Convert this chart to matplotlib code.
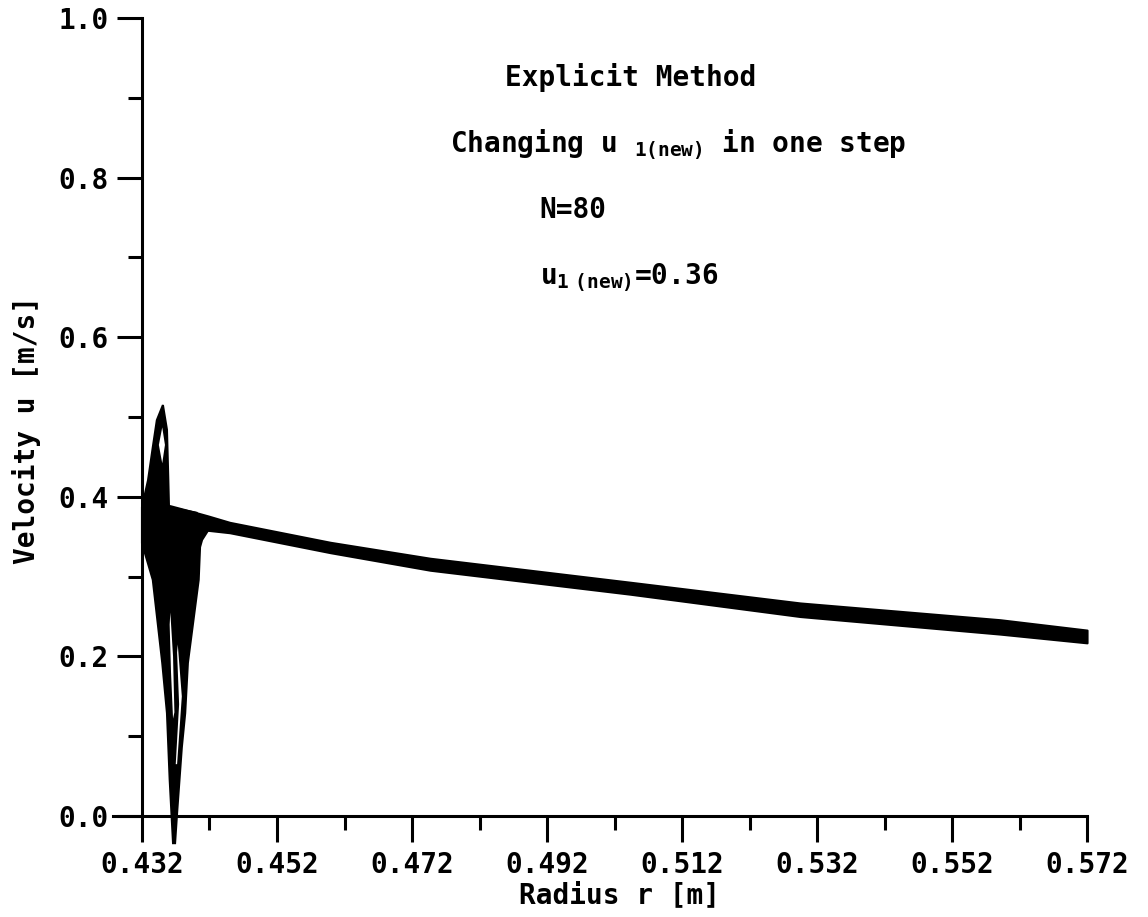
import matplotlib
matplotlib.use("Agg")
import matplotlib.pyplot as plt
from matplotlib.ticker import FixedLocator

# ---- data ----
# steady band (envelope of the overlaid time-step profiles)
band_r = [0.4361, 0.4401, 0.4418, 0.4450, 0.4599, 0.4747, 0.4895, 0.5043, 0.5295, 0.5591, 0.5720]
band_upper = [0.389, 0.380, 0.376, 0.368, 0.343, 0.323, 0.308, 0.293, 0.267, 0.246, 0.233]
band_lower = [0.360, 0.358, 0.358, 0.355, 0.330, 0.308, 0.293, 0.278, 0.250, 0.228, 0.217]

# transient region near the inner radius (outline of the overlaid profiles)
blob_r = [0.4320, 0.4329, 0.4336, 0.4342, 0.4351, 0.4357, 0.4359, 0.4360,
          0.4401, 0.4418, 0.4409, 0.4406, 0.4404, 0.4388, 0.4384, 0.4379, 0.4372, 0.4369,
          0.4366, 0.4361, 0.4357, 0.4350, 0.4336, 0.4320]
blob_u = [0.387, 0.421, 0.462, 0.496, 0.515, 0.484, 0.421, 0.387,
          0.380, 0.358, 0.346, 0.337, 0.296, 0.192, 0.129, 0.086, 0.004, -0.034,
          -0.034, 0.046, 0.129, 0.192, 0.296, 0.342]

# hollow loop inside the upward spike
hole_r = [0.4350, 0.4354, 0.4350, 0.4345]
hole_u = [0.487, 0.465, 0.442, 0.465]

# thin gaps between the downward-spiking profiles
slit1_r = [0.4362, 0.4366, 0.4368, 0.4366, 0.4363, 0.4361]
slit1_u = [0.255, 0.200, 0.130, 0.122, 0.180, 0.240]
slit2_r = [0.4373, 0.4379, 0.4372, 0.4370, 0.4375, 0.4372]
slit2_u = [0.215, 0.150, 0.065, 0.065, 0.140, 0.205]

x_ticks = [0.432, 0.452, 0.472, 0.492, 0.512, 0.532, 0.552, 0.572]
x_minor = [0.442, 0.462, 0.482, 0.502, 0.522, 0.542, 0.562]
x_labels = ["0.432", "0.452", "0.472", "0.492", "0.512", "0.532", "0.552", "0.572"]
y_ticks = [0.0, 0.2, 0.4, 0.6, 0.8, 1.0]
y_minor = [0.1, 0.3, 0.5, 0.7, 0.9]
y_labels = ["0.0", "0.2", "0.4", "0.6", "0.8", "1.0"]

FAM = "DejaVu Sans Mono"
WT = "bold"
FS = 20
FONT = dict(family=FAM, weight=WT)

plt.rcParams["mathtext.default"] = "regular"

fig = plt.figure(figsize=(11.48, 9.17), dpi=100)
ax = fig.add_axes([0.0984, 0.1101, 0.9469 - 0.0984, 0.9804 - 0.1101])

ax.fill(blob_r, blob_u, color="black", lw=1.5, clip_on=False, zorder=3)
ax.fill(hole_r, hole_u, color="white", lw=0, clip_on=False, zorder=4)
ax.fill(slit1_r, slit1_u, color="white", lw=0, clip_on=False, zorder=4)
ax.fill(slit2_r, slit2_u, color="white", lw=0, clip_on=False, zorder=4)
ax.fill_between(band_r, band_lower, band_upper, color="black", lw=1.5,
                clip_on=False, zorder=3)

ax.set_xlim(0.4277, 0.572)
ax.set_ylim(0.0, 1.0)

for s in ["top", "right"]:
    ax.spines[s].set_visible(False)
ax.spines["left"].set_position(("data", 0.432))
ax.spines["left"].set_linewidth(2.2)
ax.spines["bottom"].set_linewidth(2.2)

ax.xaxis.set_major_locator(FixedLocator(x_ticks))
ax.xaxis.set_minor_locator(FixedLocator(x_minor))
ax.set_xticklabels(x_labels)
ax.yaxis.set_major_locator(FixedLocator(y_ticks))
ax.yaxis.set_minor_locator(FixedLocator(y_minor))
ax.set_yticklabels(y_labels)

ax.tick_params(axis="x", which="major", direction="out", length=19, width=2.2, pad=6)
ax.tick_params(axis="x", which="minor", direction="out", length=10, width=2.2)
ax.tick_params(axis="y", which="major", direction="out", length=18, width=2.2, pad=6)
ax.tick_params(axis="y", which="minor", direction="out", length=10, width=2.2)
for lab in ax.get_xticklabels() + ax.get_yticklabels():
    lab.set_fontsize(FS)
    lab.set_fontfamily(FAM)
    lab.set_fontweight(WT)

fig.text(0.0235, 0.531, "Velocity u [m/s]", rotation=90, ha="center", va="center",
         fontsize=FS, **FONT)
fig.text(0.540, 0.024, "Radius r [m]", ha="center", va="center", fontsize=FS, **FONT)

fig.text(0.549, 0.915, "Explicit Method", ha="center", va="center", fontsize=FS, **FONT)
fig.text(0.591, 0.842, r"Changing u $_{1(new)}$ in one step", ha="center", va="center",
         fontsize=FS, **FONT)
fig.text(0.470, 0.771, "N=80", ha="left", va="center", fontsize=FS, **FONT)
fig.text(0.470, 0.697, r"u$_{1\ (new)}$=0.36", ha="left", va="center", fontsize=FS, **FONT)

fig.savefig("out.png", dpi=100)
